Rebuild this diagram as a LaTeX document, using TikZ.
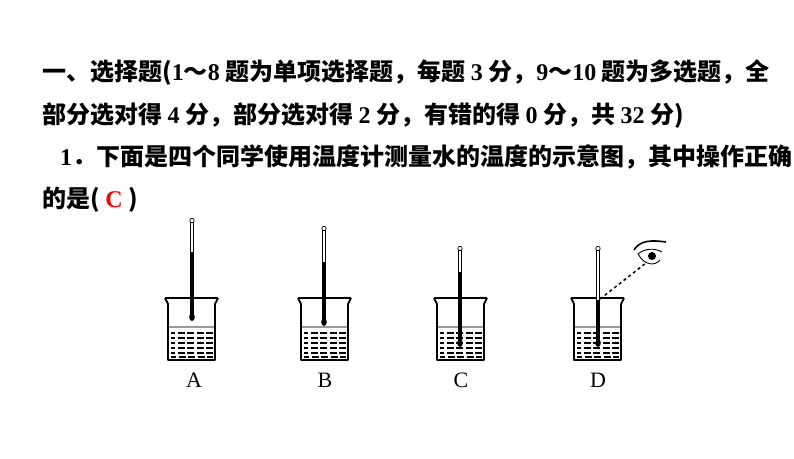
\documentclass[tikz,border=0pt]{standalone}
\usepackage{fontspec}
\setmainfont{Liberation Serif}
\newfontfamily\cjk{Noto Sans CJK SC}
\usetikzlibrary{positioning}
\tikzset{line/.style = {anchor=base west, inner sep=0pt, font=\cjk\bfseries\fontsize{24}{24}\selectfont}}
\tikzset{lbl/.style = {font=\fontsize{22}{22}\selectfont, inner sep=0pt}}
\tikzset{glass/.style = {black, line width=1.8pt, line join=round}}
\newcommand{\nm}[1]{{\rmfamily\bfseries #1}}
% beaker: #1 = left x, #2 = thermometer x, #3 = top of tube, #4 = bulb y, #5 = liquid top
\newcommand{\beaker}[5]{
    \foreach \r in {333,338,343,348,353,357}
        \draw[black, line width=1.5pt, dash pattern=on 7pt off 2.5pt, dash phase={mod(\r,5)}] (#1+3,\r) -- (#1+45,\r);
    \draw[gray!80, line width=2.2pt] (#1+1,327) -- (#1+46,327);
    \draw[glass] (#1-3,298) -- (#1,304) -- (#1,360) -- (#1+47,360) -- (#1+47,304) -- (#1+50,298);
    \draw[glass] (#1-3,298) -- (#1+50,298);
    \draw[black, line width=0.7pt, fill=white] (#2-1.8,#3) rectangle (#2+1.8,#5);
    \draw[black, line width=0.7pt, fill=white] (#2,#3-1.5) circle (2.2pt);
    \fill[black] (#2-2.2,#5) rectangle (#2+2.2,#4);
    \fill[black] (#2,#4) ellipse (2.8pt and 4pt);
}
\begin{document}
\begin{tikzpicture}[x=1pt, y=-1pt]
    \useasboundingbox (0,0) rectangle (794,458);
    % question text
    \node[line] (t1) at (42,80) {一、选择题(\nm{1}～\nm{8} 题为单项选择题，每题 \nm{3} 分，\nm{9}～\nm{10} 题为多选题，全};
    \node[line] (t2) at (42,123) {部分选对得 \nm{4} 分，部分选对得 \nm{2} 分，有错的得 \nm{0} 分，共 \nm{32} 分)};
    \node[line] (t3) at (60,165) {\nm{1}．下面是四个同学使用温度计测量水的温度的示意图，其中操作正确};
    \node[line] (t4) at (42,207) {的是(\ \textcolor{red}{\nm{C}}\ )};
    % beakers
    \beaker{168}{192}{222}{317}{252}
    \beaker{301}{324}{230}{322}{262}
    \beaker{437}{460}{250}{343}{272}
    \beaker{574}{598}{250}{343}{300}
    % eye
    \node[inner sep=0pt, minimum size=2pt] (eye) at (646,263) {};
    \draw[black, line width=1.6pt] (634,250) .. controls (640,240) and (652,240) .. (666,242);
    \draw[black, line width=0.9pt] (638,254) .. controls (645,248) and (655,248) .. (662,252);
    \draw[black, line width=0.9pt] (638,254) .. controls (645,266) and (655,266) .. (660,260);
    \fill[black] (652,256) circle (4pt);
    \coordinate (mark) at (600,299);
    \draw[black, line width=1.5pt, dashed] (mark) -- (eye);
    % labels
    \node[lbl] (la) at (194,380) {A};
    \node[lbl] (lb) at (325,380) {B};
    \node[lbl] (lc) at (461,380) {C};
    \node[lbl] (ld) at (598,380) {D};
\end{tikzpicture}
\end{document}
